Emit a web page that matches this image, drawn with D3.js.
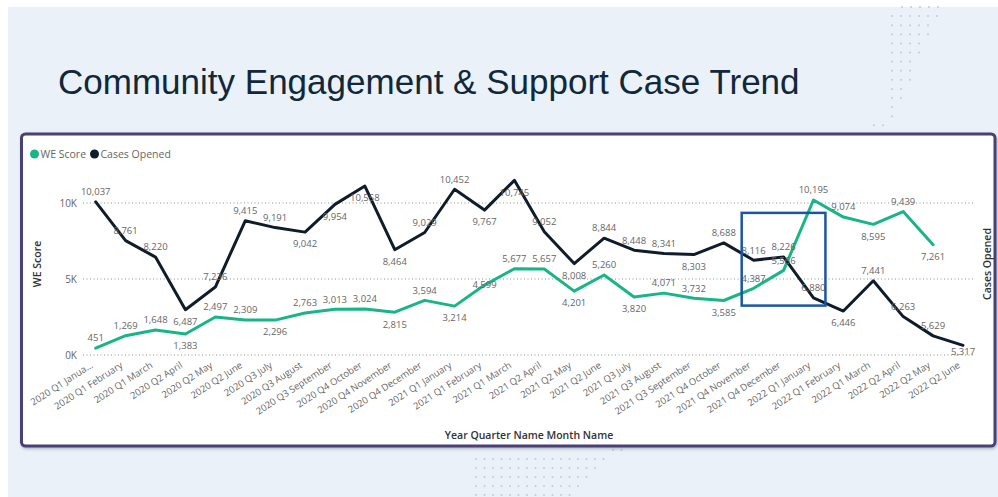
<!DOCTYPE html>
<html><head><meta charset="utf-8">
<script src="https://cdn.jsdelivr.net/npm/d3@7"></script>
<style>body{margin:0;background:#fff;} svg{display:block}</style>
</head><body><svg id="c" width="998" height="497"></svg>
<script>
const categories = ["2020 Q1 January","2020 Q1 February","2020 Q1 March","2020 Q2 April","2020 Q2 May","2020 Q2 June","2020 Q3 July","2020 Q3 August","2020 Q3 September","2020 Q4 October","2020 Q4 November","2020 Q4 December","2021 Q1 January","2021 Q1 February","2021 Q1 March","2021 Q2 April","2021 Q2 May","2021 Q2 June","2021 Q3 July","2021 Q3 August","2021 Q3 September","2021 Q4 October","2021 Q4 November","2021 Q4 December","2022 Q1 January","2022 Q1 February","2022 Q1 March","2022 Q2 April","2022 Q2 May","2022 Q2 June"];
const tickLabels = ["2020 Q1 Janua...","2020 Q1 February","2020 Q1 March","2020 Q2 April","2020 Q2 May","2020 Q2 June","2020 Q3 July","2020 Q3 August","2020 Q3 September","2020 Q4 October","2020 Q4 November","2020 Q4 December","2021 Q1 January","2021 Q1 February","2021 Q1 March","2021 Q2 April","2021 Q2 May","2021 Q2 June","2021 Q3 July","2021 Q3 August","2021 Q3 September","2021 Q4 October","2021 Q4 November","2021 Q4 December","2022 Q1 January","2022 Q1 February","2022 Q1 March","2022 Q2 April","2022 Q2 May","2022 Q2 June"];
const weScore = [451,1269,1648,1383,2497,2309,2296,2763,3013,3024,2815,3594,3214,4599,5677,5657,4201,5260,3820,4071,3732,3585,4387,5566,10195,9074,8595,9439,7261,null];
const casesOpened = [10037,8761,8220,6487,7236,9415,9191,9042,9954,10558,8464,9029,10452,9767,10745,9052,8008,8844,8448,8341,8303,8688,8116,8226,6880,6446,7441,6263,5629,5317];
const leftTicks = [0,5000,10000];
const leftTickLabels = ["0K","5K","10K"];
const seriesNames = ["WE Score","Cases Opened"];
// label placement: a = above, b = below, c = centred on point
const weLabelSide = ["a","a","a","b","a","a","b","a","a","a","b","a","b","c","a","a","b","a","b","a","a","b","a","a","a","a","b","a","b"];
const casesLabelSide = ["a","a","a","b","a","a","a","b","b","b","b","a","a","b","b","a","b","a","a","a","b","a","a","a","a","b","a","a","a","b"];
// highlighted region (category index range, WE score range)
const highlight = {from: 22, to: 24, hi: 9350, lo: 3250};

const W = 998, H = 497;
const C_GREEN = "#19B587", C_DARK = "#0F1D2B", C_TEXT = "#666666";
const FONT = "'Open Sans', 'Noto Sans', sans-serif";

const svg = d3.select("#c");
const defs = svg.append("defs");
const f = defs.append("filter").attr("id","sh").attr("x","-5%").attr("y","-5%").attr("width","110%").attr("height","115%");
f.append("feDropShadow").attr("dx",1).attr("dy",1.5).attr("stdDeviation",1.5).attr("flood-color","#000").attr("flood-opacity",0.25);

svg.append("rect").attr("width",W).attr("height",H).attr("fill","#fff");
svg.append("rect").attr("x",8).attr("y",7).attr("width",W-8).attr("height",H-7).attr("fill","#EAF1F9");

// decorative dot patterns
const dotG = svg.append("g").attr("fill","#C3CBD6");
const topRows = [[902,5],[892,6],[892,5],[892,5],[892,4],[892,4],[892,3],[892,3],[892,3],[892,2],[892,2],[892,1],[892,1],[874,2]];
topRows.forEach((r,i)=>{ for(let k=0;k<r[1];k++) dotG.append("circle").attr("cx",r[0]+k*9).attr("cy",7+i*9.1).attr("r",1); });
const botRows = [[613,2],[476,16],[476,15],[476,14],[476,13],[476,12]];
botRows.forEach((r,i)=>{ for(let k=0;k<r[1];k++) dotG.append("circle").attr("cx",r[0]+k*8.5).attr("cy",450+i*9).attr("r",1); });

// title
const title = svg.append("text").attr("x",58).attr("y",94)
  .attr("font-family","'Liberation Sans', Arial, sans-serif").attr("font-size",34)
  .attr("fill","#10283A").text("Community Engagement & Support Case Trend");
const tl = title.node().getComputedTextLength();
title.attr("font-size", 34*742/tl);

// card
svg.append("rect").attr("x",21.5).attr("y",134).attr("width",973.5).attr("height",312).attr("rx",4)
  .attr("fill","#fff").attr("stroke","#4A3F75").attr("stroke-width",3).attr("filter","url(#sh)");

// scales
const x = d3.scalePoint().domain(categories).range([95.7, 963]);
const yL = d3.scaleLinear().domain([0,12000]).range([355,172.6]);
const yR = d3.scaleLinear().domain([5000,11000]).range([355,172.6]);

// gridlines
const grid = svg.append("g");
grid.selectAll("line").data(leftTicks).join("line")
  .attr("x1",83).attr("x2",974).attr("y1",d=>yL(d)).attr("y2",d=>yL(d))
  .attr("stroke","#C8C8C8").attr("stroke-width",2).attr("stroke-dasharray","1,2.5");

// left axis labels
const yAxis = d3.axisLeft(yL).tickValues(leftTicks).tickSize(0).tickPadding(0)
  .tickFormat((d,i)=>leftTickLabels[i]);
const ya = svg.append("g").attr("transform","translate(77,0)").call(yAxis);
ya.select(".domain").remove();
ya.selectAll("text").attr("font-family",FONT).attr("font-size",10).attr("fill",C_TEXT);

// x axis labels
const xAxis = d3.axisBottom(x).tickSize(0).tickFormat((d,i)=>tickLabels[i]);
const xa = svg.append("g").attr("transform","translate(0,0)").call(xAxis);
xa.select(".domain").remove();
xa.selectAll(".tick").attr("transform", d=>`translate(${x(d)-4},364)`);
xa.selectAll("text").attr("font-family",FONT).attr("font-size",9.5).attr("fill",C_TEXT)
  .attr("text-anchor","end").attr("y",0).attr("dy","0.35em").attr("transform","rotate(-33)");

// axis titles
svg.append("text").attr("transform","translate(41,264) rotate(-90)").attr("text-anchor","middle")
  .attr("font-family",FONT).attr("font-size",10.5).attr("font-weight",600).attr("fill","#333").text("WE Score");
svg.append("text").attr("transform","translate(991,264) rotate(-90)").attr("text-anchor","middle")
  .attr("font-family",FONT).attr("font-size",10.5).attr("font-weight",600).attr("fill","#333").text("Cases Opened");
svg.append("text").attr("x",529).attr("y",439).attr("text-anchor","middle")
  .attr("font-family",FONT).attr("font-size",10.5).attr("font-weight",600).attr("fill","#333").text("Year Quarter Name Month Name");

// legend
const leg = svg.append("g").attr("font-family",FONT).attr("font-size",10.5).attr("fill",C_TEXT);
const legX = [34.5, 94.5];
[C_GREEN, C_DARK].forEach((c,i)=>{
  leg.append("circle").attr("cx",legX[i]).attr("cy",154).attr("r",4.5).attr("fill",c);
  leg.append("text").attr("x",legX[i]+6).attr("y",154).attr("dy","0.35em").text(seriesNames[i]);
});

// lines
const greenLine = d3.line().defined(d=>d!=null).x((d,i)=>x(categories[i])).y(d=>yL(d));
const darkLine = d3.line().x((d,i)=>x(categories[i])).y(d=>yR(d));
svg.append("path").datum(weScore).attr("d",greenLine).attr("fill","none").attr("stroke",C_GREEN)
  .attr("stroke-width",3).attr("stroke-linejoin","round").attr("stroke-linecap","round");
svg.append("path").datum(casesOpened).attr("d",darkLine).attr("fill","none").attr("stroke",C_DARK)
  .attr("stroke-width",3).attr("stroke-linejoin","round").attr("stroke-linecap","round");

// data labels
const fmt = d3.format(",");
function labels(vals, sides, scale){
  const g = svg.append("g").attr("font-family",FONT).attr("font-size",9.5).attr("fill",C_TEXT).attr("text-anchor","middle");
  vals.forEach((v,i)=>{
    if(v==null) return;
    const off = sides[i]==="a" ? -10 : sides[i]==="b" ? 12 : 0;
    const cy = Math.min(scale(v)+off, 352);
    g.append("text").attr("x",x(categories[i])).attr("y",cy).attr("dy","0.35em").text(fmt(v));
  });
}
labels(weScore, weLabelSide, yL);
labels(casesOpened, casesLabelSide, yR);

// highlight box
const step = x.step();
const hx0 = x(categories[highlight.from]) - 0.4*step, hx1 = x(categories[highlight.to]) + 0.4*step;
svg.append("rect").attr("x",hx0).attr("y",yL(highlight.hi)).attr("width",hx1-hx0)
  .attr("height",yL(highlight.lo)-yL(highlight.hi)).attr("fill","none")
  .attr("stroke","#1A56A8").attr("stroke-width",2.5);
</script></body></html>
